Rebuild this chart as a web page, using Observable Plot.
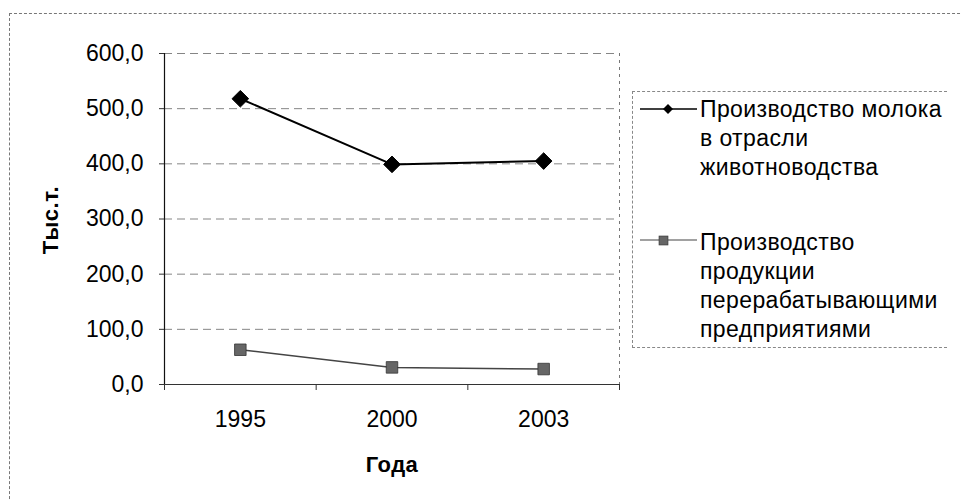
<!DOCTYPE html>
<html>
<head>
<meta charset="utf-8">
<script src="https://cdn.jsdelivr.net/npm/d3@7"></script>
<script src="https://cdn.jsdelivr.net/npm/@observablehq/plot@0.6"></script>
<style>
  html, body { margin: 0; padding: 0; background: #fff; }
  #wrap { position: relative; width: 962px; height: 501px; overflow: hidden; font-family: "Liberation Sans", Arial, sans-serif; }
  #wrap svg.plot { position: absolute; left: 0; top: 0; }
  .frame { position: absolute; left: 9px; top: 13px; width: 960px; height: 500px; border-top: 1px dashed #777; border-left: 1px dashed #777; }
  .ytitle { position: absolute; left: 51px; top: 220px; transform: translate(-50%, -50%) rotate(-90deg); font-weight: bold; font-size: 22px; letter-spacing: 0.5px; white-space: nowrap; color: #000; }
  .xtitle { position: absolute; left: 392px; top: 452px; transform: translateX(-50%); font-weight: bold; font-size: 22px; letter-spacing: 0.5px; white-space: nowrap; color: #000; }
  .legend { position: absolute; left: 632px; top: 91px; width: 314px; height: 255px; border: 1px dashed #888; border-right: none; }
  .entry { position: absolute; left: 640px; white-space: nowrap; font-size: 23px; letter-spacing: 0.4px; line-height: 29px; color: #000; }
  .entry svg { position: absolute; left: 0; top: 0; }
  .entry .txt { position: absolute; left: 60px; top: 0; }
</style>
</head>
<body>
<div id="wrap"></div>
<script>
const years = ["1995", "2000", "2003"];
const milk = [518, 399, 405];
const processed = [63, 31, 28];
const yTicks = [0, 100, 200, 300, 400, 500, 600];
const seriesNames = [
  ["Производство молока", "в отрасли", "животноводства"],
  ["Производство", "продукции", "перерабатывающими", "предприятиями"]
];
const yTitle = "Тыс.т.";
const xTitle = "Года";

const idx = years.map((_, i) => i);
const bounds = d3.range(years.length + 1).map(i => i - 0.5);
const milkData = idx.map(i => ({i, v: milk[i]}));
const procData = idx.map(i => ({i, v: processed[i]}));
const fmt = d => d.toFixed(1).replace(".", ",");

const chart = Plot.plot({
  width: 962,
  height: 501,
  marginLeft: 164,
  marginRight: 343,
  marginTop: 53,
  marginBottom: 117,
  style: { fontFamily: "Liberation Sans, Arial, sans-serif", background: "transparent" },
  x: { type: "linear", domain: [bounds[0], bounds[bounds.length - 1]] },
  y: { domain: [0, 600] },
  marks: [
    Plot.gridY(yTicks.filter(t => t > 0), { stroke: "#666", strokeOpacity: 0.8, strokeDasharray: "8,5", strokeWidth: 1 }),
    Plot.ruleX([bounds[bounds.length - 1]], { stroke: "#777", strokeDasharray: "3,4", strokeWidth: 1 }),
    Plot.ruleY([0], { stroke: "#333", strokeWidth: 1.2 }),
    Plot.ruleX([bounds[0]], { stroke: "#111", strokeWidth: 1.2 }),
    Plot.axisY({ ticks: yTicks, tickFormat: fmt, tickSize: 5, tickPadding: 16, fontSize: 23, label: null, stroke: "#333" }),
    Plot.axisX({ ticks: bounds, tickFormat: () => "", tickSize: 6, label: null, stroke: "#333" }),
    Plot.axisX({ ticks: idx, tickFormat: i => years[i], tickSize: 0, tickPadding: 26, fontSize: 23, label: null }),
    Plot.line(milkData, { x: "i", y: "v", stroke: "#000", strokeWidth: 2 }),
    Plot.dot(milkData, { x: "i", y: "v", symbol: "diamond2", fill: "#000", stroke: "#000", strokeWidth: 1, r: 7.5 }),
    Plot.line(procData, { x: "i", y: "v", stroke: "#444", strokeWidth: 1.5 }),
    Plot.dot(procData, { x: "i", y: "v", symbol: "square", fill: "#666", stroke: "#333", strokeWidth: 0.8, r: 6.5 })
  ]
});
chart.classList.add("plot");

const wrap = document.getElementById("wrap");
const frame = document.createElement("div");
frame.className = "frame";
wrap.appendChild(frame);
wrap.appendChild(chart);

const yt = document.createElement("div");
yt.className = "ytitle"; yt.textContent = yTitle; wrap.appendChild(yt);
const xt = document.createElement("div");
xt.className = "xtitle"; xt.textContent = xTitle; wrap.appendChild(xt);

const leg = document.createElement("div");
leg.className = "legend"; wrap.appendChild(leg);

const entryTops = [95, 228];
const symbols = [
  '<line x1="0" y1="14" x2="57" y2="14" stroke="#000" stroke-width="1.5"/><path d="M28,9 L33,14 L28,19 L23,14 Z" fill="#000"/>',
  '<line x1="0" y1="12" x2="57" y2="12" stroke="#444" stroke-width="1.2"/><rect x="19" y="8" width="9" height="9" fill="#666" stroke="#333" stroke-width="0.6"/>'
];
seriesNames.forEach((lines, k) => {
  const e = document.createElement("div");
  e.className = "entry";
  e.style.top = entryTops[k] + "px";
  e.innerHTML = '<svg width="58" height="30">' + symbols[k] + '</svg><div class="txt"></div>';
  const t = e.querySelector(".txt");
  lines.forEach((ln, j) => {
    const d = document.createElement("div");
    d.textContent = ln;
    t.appendChild(d);
  });
  wrap.appendChild(e);
});
</script>
</body>
</html>
